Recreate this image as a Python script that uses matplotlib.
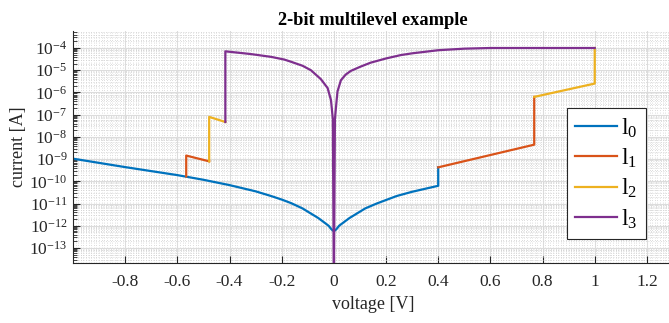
import numpy as np
import matplotlib
matplotlib.use("Agg")
import matplotlib.pyplot as plt
from matplotlib.ticker import MultipleLocator, LogLocator, FixedLocator, NullFormatter

plt.rcParams["font.family"] = ["Liberation Serif", "DejaVu Serif"]
plt.rcParams["mathtext.fontset"] = "custom"
plt.rcParams["mathtext.rm"] = "Liberation Serif"
plt.rcParams["mathtext.it"] = "Liberation Serif:italic"

# values: voltage [V] and log10(current [A]); nan breaks a line
l0_v = [-1.0, -0.9, -0.8, -0.7, -0.6, -0.5, -0.4, -0.3, -0.241, -0.2, -0.164, -0.12,
        -0.088, -0.06, -0.037, -0.02, -0.01, 0.0,
        0.01, 0.02, 0.037, 0.06, 0.088, 0.12, 0.164, 0.2, 0.241, 0.3, 0.4, 0.4]
l0_e = [-8.98, -9.17, -9.36, -9.54, -9.72, -9.93, -10.17, -10.45, -10.66, -10.82, -10.98, -11.22,
        -11.45, -11.65, -11.85, -12.0, -12.15, -12.25,
        -12.15, -12.0, -11.85, -11.65, -11.45, -11.22, -11.0, -10.84, -10.66, -10.47, -10.2, -9.37]

l1_v = [-0.566, -0.566, -0.478, np.nan, 0.4, 0.768, 0.768]
l1_e = [-9.78, -8.84, -9.1, np.nan, -9.37, -8.35, -6.2]

l2_v = [-0.478, -0.478, -0.416, np.nan, 0.768, 1.0, 1.0]
l2_e = [-9.1, -7.1, -7.33, np.nan, -6.2, -5.6, -4.0]

l3_v = [-0.416, -0.416, -0.32, -0.24, -0.19, -0.164, -0.12, -0.088, -0.05, -0.024,
        -0.011, -0.004, 0.0, 0.004, 0.011, 0.014, 0.027, 0.045, 0.065, 0.1, 0.141,
        0.2, 0.256, 0.3, 0.4, 0.5, 0.6, 1.0]
l3_e = [-7.33, -4.15, -4.27, -4.4, -4.52, -4.62, -4.8, -5.0, -5.4, -5.8,
        -6.35, -7.2, -15.0, -7.2, -6.3, -5.95, -5.45, -5.2, -5.03, -4.85, -4.66,
        -4.47, -4.32, -4.24, -4.1, -4.03, -4.0, -4.0]

labels = [r"$\mathrm{l}_0$", r"$\mathrm{l}_1$", r"$\mathrm{l}_2$", r"$\mathrm{l}_3$"]
colors = ["#0072BD", "#D95319", "#EDB120", "#7E2F8E"]
xticks = [-0.8, -0.6, -0.4, -0.2, 0, 0.2, 0.4, 0.6, 0.8, 1, 1.2]
xtick_labels = ["-0.8", "-0.6", "-0.4", "-0.2", "0", "0.2", "0.4", "0.6", "0.8", "1", "1.2"]
yexp = list(range(-13, -3))

fig = plt.figure(figsize=(6.69, 3.23), dpi=100)
ax = fig.add_axes([73 / 669, 1 - 263 / 323, 600 / 669, 232 / 323])

series = [(l0_v, l0_e), (l1_v, l1_e), (l2_v, l2_e), (l3_v, l3_e)]
for (v, e), c, lab in zip(series, colors, labels):
    ax.plot(v, 10.0 ** np.array(e), color=c, lw=1.6, label=lab)

ax.set_yscale("log")
ax.set_xlim(-1.0, 1.3)
ax.set_ylim(10 ** -13.675, 10 ** -3.235)

ax.set_xticks(xticks)
ax.set_xticklabels(xtick_labels)
ax.xaxis.set_minor_locator(MultipleLocator(0.01))
ax.yaxis.set_major_locator(FixedLocator([10.0 ** k for k in yexp]))
ax.set_yticklabels([r"$10^{%d}$" % k for k in yexp])
ax.yaxis.set_minor_locator(LogLocator(base=10, subs=np.arange(2, 10), numticks=30))
ax.yaxis.set_minor_formatter(NullFormatter())

ax.tick_params(axis="both", which="major", direction="in", length=5, width=0.8,
               colors="#262626", labelsize=12.5, pad=4)
ax.tick_params(axis="x", which="minor", length=0)
ax.tick_params(axis="y", which="minor", direction="in", length=3, width=0.6, colors="#262626")
ax.tick_params(axis="x", pad=8)

ax.grid(which="major", color="#dcdcdc", lw=0.8, ls="-")
ax.grid(which="minor", color="#d0d0d0", lw=0.6, ls=(0, (1, 2)))
ax.set_axisbelow(True)

for s in ["top", "right"]:
    ax.spines[s].set_visible(False)
for s in ["left", "bottom"]:
    ax.spines[s].set_color("#262626")
    ax.spines[s].set_linewidth(0.8)

ax.set_xlabel("voltage [V]", fontsize=13, color="#262626", labelpad=4)
ax.set_ylabel("current [A]", fontsize=13, color="#262626", labelpad=2)
ax.set_title("2-bit multilevel example", fontsize=13.2, fontweight="bold", pad=4)

leg = ax.legend(loc="upper left", bbox_to_anchor=((567 - 73) / 600, (263 - 108) / 232),
                fontsize=17, frameon=True, fancybox=False, handlelength=1.75,
                borderpad=0.35, labelspacing=0.3, handletextpad=0.2, borderaxespad=0)
leg.get_frame().set_edgecolor("#262626")
leg.get_frame().set_linewidth(0.8)
leg.get_frame().set_alpha(1)

fig.savefig("out.png", dpi=100)
